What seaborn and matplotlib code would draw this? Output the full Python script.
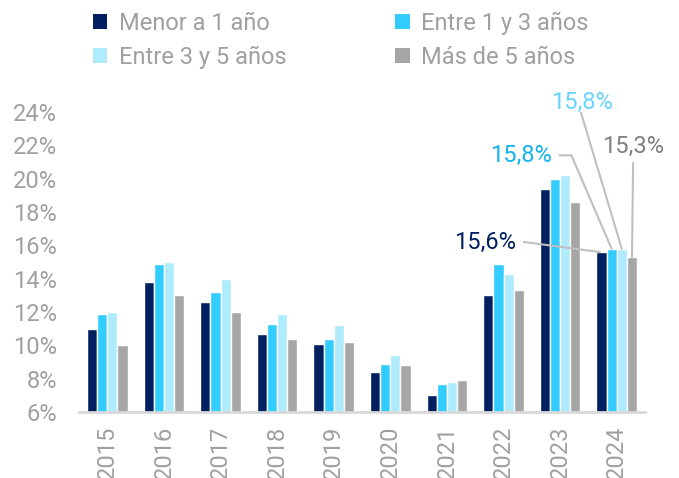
import matplotlib
matplotlib.use("Agg")
import matplotlib.pyplot as plt
from matplotlib.patches import Patch
import seaborn as sns
import pandas as pd

# Data
years = ["2015", "2016", "2017", "2018", "2019", "2020", "2021", "2022", "2023", "2024"]
series_names = ["Menor a 1 año", "Entre 1 y 3 años", "Entre 3 y 5 años", "Más de 5 años"]
menor_1 = [11.0, 13.8, 12.6, 10.7, 10.1, 8.4, 7.0, 13.0, 19.4, 15.6]
entre_1_3 = [11.9, 14.9, 13.2, 11.3, 10.4, 8.9, 7.7, 14.9, 20.0, 15.8]
entre_3_5 = [12.0, 15.0, 14.0, 11.9, 11.2, 9.4, 7.8, 14.3, 20.2, 15.8]
mas_5 = [10.0, 13.0, 12.0, 10.4, 10.2, 8.8, 7.9, 13.3, 18.6, 15.3]
label_texts = ["15,6%", "15,8%", "15,8%", "15,3%"]

bar_colors = ["#00205F", "#33CCFF", "#AEEBFC", "#A6A6A6"]
text_colors = ["#00205F", "#14B4F0", "#66D4FF", "#808080"]
tick_gray = "#A0A0A0"
fs = 17

df = pd.DataFrame({
    "year": years * 4,
    "serie": [s for s in series_names for _ in years],
    "value": menor_1 + entre_1_3 + entre_3_5 + mas_5,
})

sns.set_style("white")
plt.rcParams["font.family"] = ["Roboto", "DejaVu Sans"]

fig = plt.figure(figsize=(6.79, 4.78), dpi=100)
ax = fig.add_axes([79 / 679, 1 - 412 / 478, 566 / 679, 300 / 478])

group_w = 0.72
sns.barplot(data=df, x="year", y="value", hue="serie", order=years, hue_order=series_names,
            palette=bar_colors, width=group_w, gap=0, ax=ax, legend=False, saturation=1)

ax.set_ylim(6, 24)
ax.set_xlim(-0.5, len(years) - 0.5)
ax.set_yticks(range(6, 25, 2))
ax.set_yticklabels([f"{v}%" for v in range(6, 25, 2)])
ax.set_xlabel("")
ax.set_ylabel("")
ax.tick_params(axis="y", colors=tick_gray, labelsize=fs, length=0, pad=16)
ax.tick_params(axis="x", colors=tick_gray, labelsize=fs, length=0, pad=10, labelrotation=90)
for side in ["top", "right", "left"]:
    ax.spines[side].set_visible(False)
ax.spines["bottom"].set_color("#D9D9D9")
ax.spines["bottom"].set_linewidth(2)

# Annotations for 2024
last = len(years) - 1
bw = group_w / 4
xs = [last - 1.5 * bw, last - 0.5 * bw, last + 0.5 * bw, last + 1.5 * bw]
tops = [menor_1[last], entre_1_3[last], entre_3_5[last], mas_5[last]]
lc = "#BFBFBF"

# Menor a 1 año
ax.plot([xs[0] - 1.37, xs[0] - 0.03], [16.2, tops[0]], color=lc, lw=1.5, clip_on=False)
ax.text(xs[0] - 1.5, 16.15, label_texts[0], color=text_colors[0], fontsize=fs,
        ha="right", va="center")
# Entre 1 y 3 años
ax.plot([xs[1] - 0.92, xs[1] - 0.71, xs[1]], [21.4, 21.4, tops[1]], color=lc, lw=1.5, clip_on=False)
ax.text(xs[1] - 1.05, 21.4, label_texts[1], color=text_colors[1], fontsize=fs,
        ha="right", va="center")
# Entre 3 y 5 años
ax.plot([xs[2] - 0.72, xs[2]], [23.95, tops[2]], color=lc, lw=1.5, clip_on=False)
ax.text(xs[2] - 0.7, 24.55, label_texts[2], color=text_colors[2], fontsize=fs,
        ha="center", va="center", clip_on=False)
# Más de 5 años
ax.plot([xs[3] + 0.02, xs[3]], [20.95, tops[3]], color=lc, lw=1.5, clip_on=False)
ax.text(xs[3] + 0.02, 21.95, label_texts[3], color=text_colors[3], fontsize=fs,
        ha="center", va="center")

# Legend
handles = [Patch(facecolor=c, edgecolor="none") for c in bar_colors]
order = [0, 2, 1, 3]
leg = fig.legend([handles[i] for i in order], [series_names[i] for i in order],
                 loc="upper left", bbox_to_anchor=(72 / 679, 1.02), ncol=2, frameon=False,
                 fontsize=fs, handlelength=0.6, handleheight=0.6, handletextpad=0.5,
                 columnspacing=4.6, labelspacing=0.45)
for t in leg.get_texts():
    t.set_color(tick_gray)

fig.savefig("out.png", dpi=100)
